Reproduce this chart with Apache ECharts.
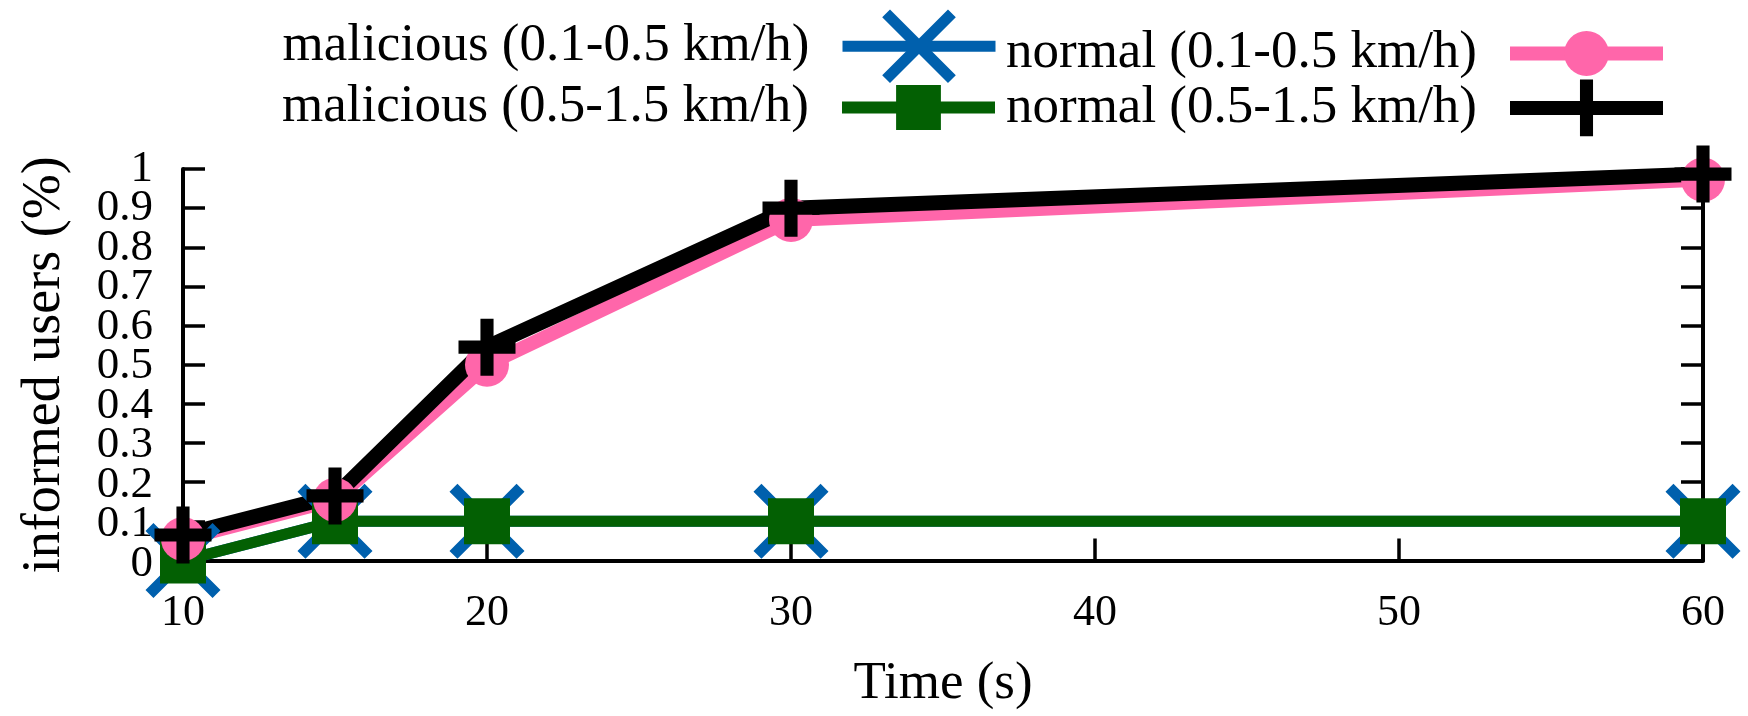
<!DOCTYPE html>
<html>
<head>
<meta charset="utf-8">
<script src="https://cdn.jsdelivr.net/npm/echarts@6/dist/echarts.min.js"></script>
<style>
  html, body { margin: 0; padding: 0; background: #fff; }
  #chart { width: 1748px; height: 716px; }
</style>
</head>
<body>
<div id="chart"></div>
<script>
// Simulation time (s) at which each run was sampled
const timeSteps = [10, 15, 20, 30, 60];

// Fraction of informed users per scenario
const maliciousSlow = [0, 0.1, 0.1, 0.1, 0.1];     // malicious (0.1-0.5 km/h)
const maliciousFast = [0, 0.1, 0.1, 0.1, 0.1];     // malicious (0.5-1.5 km/h)
const normalSlow    = [0.055, 0.155, 0.50, 0.87, 0.973]; // normal (0.1-0.5 km/h)
const normalFast    = [0.065, 0.165, 0.545, 0.90, 0.987]; // normal (0.5-1.5 km/h)

const seriesNames = [
  'malicious (0.1-0.5 km/h)',
  'malicious (0.5-1.5 km/h)',
  'normal (0.1-0.5 km/h)',
  'normal (0.5-1.5 km/h)'
];

const yTicks = { min: 0, max: 1, step: 0.1 };
const xTicks = { min: 10, max: 60, step: 10 };

const FONT = 'Liberation Serif';

// Plot area in pixels
const PLOT = { left: 183, right: 45, top: 169, bottom: 152 };
// Label-only axis padded by two empty steps at each end, so the dense
// tick labels next to 0 and 1 are never auto-hidden
const PAD_STEPS = 2;
const stepPx = (716 - PLOT.top - PLOT.bottom) / ((yTicks.max - yTicks.min) / yTicks.step);

// Marker shapes
const CROSS_X = 'path://M0 10.6L10.6 0L50 39.4L89.4 0L100 10.6L60.6 50L100 89.4L89.4 100L50 60.6L10.6 100L0 89.4L39.4 50Z';
const PLUS = 'path://M38.5 0H61.5V38.5H100V61.5H61.5V100H38.5V61.5H0V38.5H38.5Z';

const colors = {
  blue: '#0060ad',
  green: '#036003',
  pink: '#ff66aa',
  black: '#000000'
};

function pairs(values) {
  return timeSteps.map((t, i) => [t, values[i]]);
}

function lineSeries(name, values, color, width, symbol, size) {
  return {
    name: name,
    type: 'line',
    data: pairs(values),
    symbol: symbol,
    symbolSize: size,
    symbolKeepAspect: true,
    showAllSymbol: true,
    clip: false,
    lineStyle: { color: color, width: width },
    itemStyle: { color: color, opacity: 1 },
    emphasis: { disabled: true },
    z: 2
  };
}

function legendBox(name, right, top, itemHeight, lineWidth) {
  return {
    data: [name],
    right: right,
    top: top,
    align: 'right',
    orient: 'horizontal',
    padding: 0,
    itemWidth: 153,
    itemHeight: itemHeight,
    selectedMode: false,
    lineStyle: { width: lineWidth },
    textStyle: {
      fontFamily: FONT,
      fontSize: 53,
      color: '#000',
      padding: [0, 28, 0, 0]
    }
  };
}

const chart = echarts.init(document.getElementById('chart'), null, { renderer: 'canvas' });

const axisLine = { show: true, lineStyle: { color: '#000', width: 4 } };
const axisTick = { show: true, inside: true, length: 22, lineStyle: { color: '#000', width: 3.5 } };

chart.setOption({
  animation: false,
  backgroundColor: '#fff',
  textStyle: { fontFamily: FONT },
  grid: [
    { left: PLOT.left, right: PLOT.right, top: PLOT.top, bottom: PLOT.bottom, containLabel: false },
    {
      left: PLOT.left, right: PLOT.right,
      top: PLOT.top - PAD_STEPS * stepPx, bottom: PLOT.bottom - PAD_STEPS * stepPx,
      containLabel: false
    }
  ],
  legend: [
    legendBox(seriesNames[0], 747, 9.5, 92, 11),
    legendBox(seriesNames[1], 747, 81, 56, 12),
    legendBox(seriesNames[2], 78, 27, 56, 14),
    legendBox(seriesNames[3], 78, 79.5, 71, 14)
  ],
  xAxis: [
    {
      type: 'value',
      gridIndex: 0,
      min: xTicks.min,
      max: xTicks.max,
      interval: xTicks.step,
      name: 'Time (s)',
      nameLocation: 'middle',
      nameGap: 124,
      nameTextStyle: { fontFamily: FONT, fontSize: 53, color: '#000', verticalAlign: 'middle' },
      axisLine: axisLine,
      axisTick: axisTick,
      splitLine: { show: false },
      axisLabel: {
        fontFamily: FONT, fontSize: 44, color: '#000', margin: 31,
        showMinLabel: true, showMaxLabel: true
      }
    },
    {
      type: 'value',
      gridIndex: 1,
      show: false,
      min: xTicks.min,
      max: xTicks.max
    }
  ],
  yAxis: [
    {
      type: 'value',
      gridIndex: 0,
      position: 'left',
      min: yTicks.min,
      max: yTicks.max,
      interval: yTicks.step,
      name: 'informed users (%)',
      nameLocation: 'middle',
      nameGap: 138,
      nameRotate: 90,
      nameTextStyle: { fontFamily: FONT, fontSize: 54, color: '#000', verticalAlign: 'middle' },
      axisLine: axisLine,
      axisTick: axisTick,
      splitLine: { show: false },
      axisLabel: { show: false }
    },
    {
      type: 'value',
      gridIndex: 0,
      position: 'right',
      min: yTicks.min,
      max: yTicks.max,
      interval: yTicks.step,
      axisLine: axisLine,
      axisTick: axisTick,
      splitLine: { show: false },
      axisLabel: { show: false }
    },
    {
      // tick labels 0 … 1 for the left axis
      type: 'value',
      gridIndex: 1,
      position: 'left',
      min: yTicks.min - PAD_STEPS * yTicks.step,
      max: yTicks.max + PAD_STEPS * yTicks.step,
      interval: yTicks.step,
      axisLine: { show: false },
      axisTick: { show: false },
      splitLine: { show: false },
      axisLabel: {
        fontFamily: FONT, fontSize: 45, color: '#000', margin: 30,
        formatter: v => {
          const r = Math.round(v * 10) / 10;
          return (r < yTicks.min || r > yTicks.max) ? '' : String(r);
        }
      }
    }
  ],
  series: [
    lineSeries(seriesNames[0], maliciousSlow, colors.blue, 11, CROSS_X, 75),
    lineSeries(seriesNames[1], maliciousFast, colors.green, 11, 'rect', 46),
    lineSeries(seriesNames[2], normalSlow, colors.pink, 14, 'circle', 44),
    lineSeries(seriesNames[3], normalFast, colors.black, 15, PLUS, 57)
  ]
});
</script>
</body>
</html>
